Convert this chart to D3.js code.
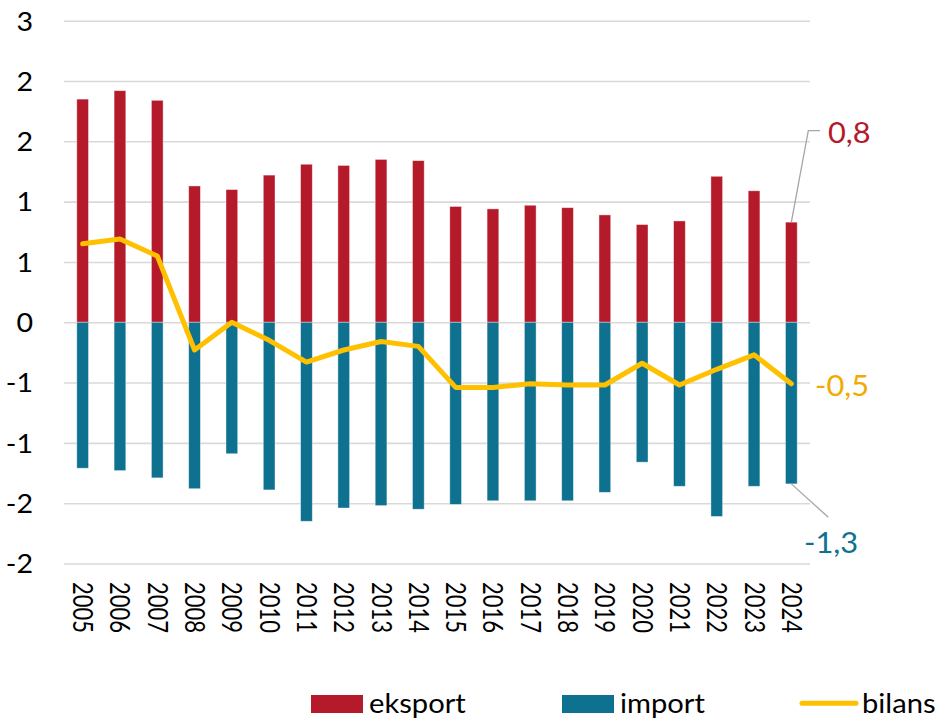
<!DOCTYPE html>
<html>
<head>
<meta charset="utf-8">
<script src="https://cdn.jsdelivr.net/npm/d3@7"></script>
<style>
  html, body { margin: 0; padding: 0; background: #fff; }
  svg { display: block; font-family: Lato, "Open Sans", sans-serif; }
</style>
</head>
<body>
<svg id="chart" width="941" height="719"></svg>
<script>
// Trade balance per year (eksport, import, bilans)
const years = ["2005","2006","2007","2008","2009","2010","2011","2012","2013","2014",
               "2015","2016","2017","2018","2019","2020","2021","2022","2023","2024"];
const eksport = [1.85, 1.92, 1.84, 1.13, 1.10, 1.22, 1.31, 1.30, 1.35, 1.34,
                 0.96, 0.94, 0.97, 0.95, 0.89, 0.81, 0.84, 1.21, 1.09, 0.83];
const imports = [-1.21, -1.23, -1.29, -1.38, -1.09, -1.39, -1.65, -1.54, -1.52, -1.55,
                 -1.51, -1.48, -1.48, -1.48, -1.41, -1.16, -1.36, -1.61, -1.36, -1.34];
const bilans  = [0.65, 0.69, 0.55, -0.23, 0.00, -0.15, -0.33, -0.23, -0.16, -0.20,
                 -0.54, -0.54, -0.51, -0.52, -0.52, -0.34, -0.52, -0.39, -0.27, -0.51];
const yTicks = [-2, -1.5, -1, -0.5, 0, 0.5, 1, 1.5, 2, 2.5];
const seriesNames = ["eksport", "import", "bilans"];

const RED = "#B51A2A", TEAL = "#0E7190", GOLD = "#FFC000", GOLD_LABEL = "#F2A900";
const GRID = "#D9D9D9", LEADER = "#A6A6A6";
const SX = 1.1; // horizontal glyph stretch

const svg = d3.select("#chart");
const plot = { left: 64, right: 810, top: 20.7, bottom: 563.5 };

const x = d3.scaleBand().domain(years)
  .range([plot.left, plot.right])
  .paddingInner(0.686).paddingOuter(0.343);
const y = d3.scaleLinear().domain([-2, 2.5]).range([plot.bottom, plot.top]);
const cx = d => x(d) + x.bandwidth() / 2;

// integer labels, rounding halves away from zero, hyphen minus
const intFmt = v => { const r = Math.round(Math.abs(v)); return r === 0 ? "0" : (v < 0 ? "-" : "") + r; };
const locale = d3.formatLocale({ decimal: ",", thousands: " ", grouping: [3], currency: ["", ""], minus: "-" });
const valFmt = locale.format(".1f");

// grid lines
const grid = svg.append("g")
  .attr("transform", `translate(${plot.left},0)`)
  .call(d3.axisLeft(y).tickValues(yTicks).tickSize(-(plot.right - plot.left)).tickFormat(""));
grid.select(".domain").remove();
grid.selectAll(".tick line").attr("stroke", GRID).attr("stroke-width", 1.6);

// y-axis labels
const yAxis = svg.append("g")
  .attr("transform", `translate(33,0)`)
  .call(d3.axisLeft(y).tickValues(yTicks).tickSize(0).tickPadding(0).tickFormat(intFmt));
yAxis.select(".domain").remove();
yAxis.selectAll(".tick text")
  .attr("fill", "#000").attr("font-size", 26).attr("font-family", "Lato")
  .attr("dy", "0.36em").attr("x", 0)
  .attr("transform", `scale(${SX},1)`);

// bars
const barG = svg.append("g");
barG.selectAll("rect.eks").data(years).join("rect")
  .attr("class", "eks")
  .attr("x", d => x(d)).attr("width", x.bandwidth())
  .attr("y", (d, i) => y(eksport[i])).attr("height", (d, i) => y(0) - y(eksport[i]))
  .attr("fill", RED).attr("stroke", "#fff").attr("stroke-opacity", 0.5).attr("stroke-width", 0.8);
barG.selectAll("rect.imp").data(years).join("rect")
  .attr("class", "imp")
  .attr("x", d => x(d)).attr("width", x.bandwidth())
  .attr("y", y(0)).attr("height", (d, i) => y(imports[i]) - y(0))
  .attr("fill", TEAL).attr("stroke", "#fff").attr("stroke-opacity", 0.5).attr("stroke-width", 0.8);

// balance line
svg.append("path")
  .datum(years)
  .attr("fill", "none").attr("stroke", GOLD).attr("stroke-width", 5)
  .attr("stroke-linejoin", "round").attr("stroke-linecap", "round")
  .attr("d", d3.line().x(d => cx(d)).y((d, i) => y(bilans[i])));

// year labels, rotated
const xAxis = svg.append("g").attr("transform", `translate(0,582)`);
xAxis.selectAll("text").data(years).join("text")
  .attr("transform", d => `translate(${cx(d)},0) scale(1.2,1) rotate(90)`)
  .attr("dy", "0.36em")
  .attr("font-size", 22).attr("font-family", "Lato").attr("fill", "#000")
  .text(d => d);

// end-of-series value labels
const last = years.length - 1;
const lx = cx(years[last]);
// eksport
svg.append("polyline")
  .attr("points", [[lx, y(eksport[last])], [808.3, 130.7], [820, 130.7]].map(p => p.join(",")).join(" "))
  .attr("fill", "none").attr("stroke", LEADER).attr("stroke-width", 1.3);
svg.append("text").attr("transform", `translate(828,133) scale(${SX},1)`).attr("dy", "0.36em")
  .attr("font-size", 28).attr("fill", RED).text(valFmt(eksport[last]));
// bilans
svg.append("text").attr("transform", `translate(815,386) scale(${SX},1)`).attr("dy", "0.36em")
  .attr("font-size", 28).attr("fill", GOLD_LABEL).text(valFmt(bilans[last]));
// import
svg.append("line")
  .attr("x1", lx).attr("y1", y(imports[last])).attr("x2", 828.3).attr("y2", 517.3)
  .attr("stroke", LEADER).attr("stroke-width", 1.3);
svg.append("text").attr("transform", `translate(804,543) scale(${SX},1)`).attr("dy", "0.36em")
  .attr("font-size", 28).attr("fill", TEAL).text(valFmt(imports[last]));

// legend
const legend = svg.append("g");
const legItems = [
  { name: seriesNames[0], type: "rect", color: RED, x: 311, tx: 369 },
  { name: seriesNames[1], type: "rect", color: TEAL, x: 562, tx: 620 },
  { name: seriesNames[2], type: "line", color: GOLD, x: 802, tx: 862 }
];
legItems.forEach(it => {
  if (it.type === "rect") {
    legend.append("rect").attr("x", it.x).attr("y", 695).attr("width", 52).attr("height", 18).attr("fill", it.color);
  } else {
    legend.append("line").attr("x1", it.x).attr("x2", it.x + 54).attr("y1", 703.3).attr("y2", 703.3)
      .attr("stroke", it.color).attr("stroke-width", 5).attr("stroke-linecap", "round");
  }
  legend.append("text").attr("transform", `translate(${it.tx},712.5) scale(${SX},1)`)
    .attr("font-size", 26.5).attr("fill", "#000").text(it.name);
});
</script>
</body>
</html>
